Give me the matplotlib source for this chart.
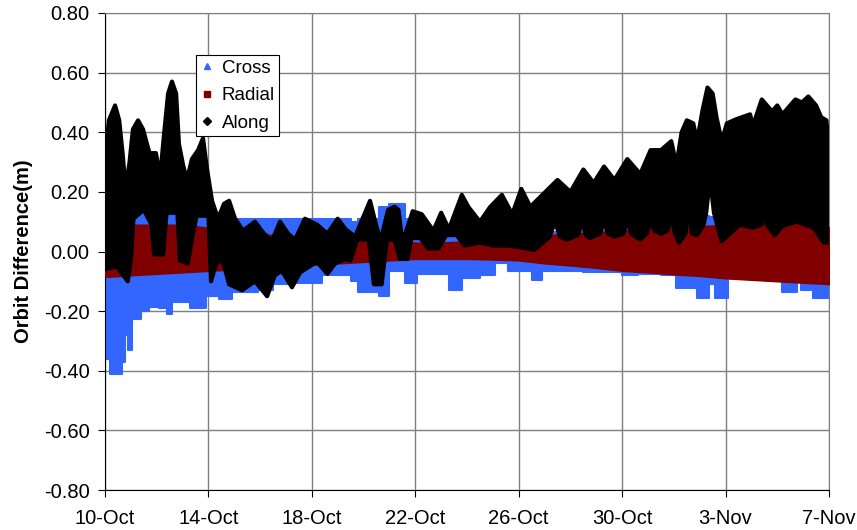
import matplotlib
matplotlib.use("Agg")
import matplotlib.pyplot as plt
import numpy as np
from matplotlib.lines import Line2D

plt.rcParams['font.family'] = ['Liberation Sans', 'DejaVu Sans']

# days after 10-Oct
x_ticks = [0, 4, 8, 12, 16, 20, 24, 28]
x_labels = ['10-Oct', '14-Oct', '18-Oct', '22-Oct', '26-Oct', '30-Oct', '3-Nov', '7-Nov']
y_ticks = [-0.8, -0.6, -0.4, -0.2, 0.0, 0.2, 0.4, 0.6, 0.8]

# Cross: blocks starting at cross_t (min / max of the dense samples)
cross_t = [0.0, 0.19, 0.64, 0.77, 0.9, 1.05, 1.4, 1.7, 2.1, 2.4, 2.6, 3.3, 3.9,
           4.4, 4.9, 5.9, 6.5, 7.3, 8.4, 9.5, 9.8, 10.6, 11.0, 11.6, 12.05, 13.3,
           13.8, 14.5, 15.1, 15.6, 16.5, 16.9, 18.5, 20.0, 20.6, 21.5, 22.1, 22.9,
           23.35, 23.6, 24.1, 26.2, 26.75, 26.9, 27.3, 27.4, 28.0]
cross_lo = [-0.36, -0.41, -0.37, -0.28, -0.33, -0.225, -0.20, -0.185, -0.19, -0.21,
            -0.17, -0.19, -0.15, -0.16, -0.135, -0.13, -0.11, -0.105, -0.08, -0.10,
            -0.135, -0.15, -0.067, -0.106, -0.075, -0.13, -0.09, -0.08, -0.04, -0.065,
            -0.095, -0.067, -0.07, -0.078, -0.075, -0.08, -0.124, -0.157, -0.11,
            -0.155, -0.09, -0.135, -0.10, -0.13, -0.11, -0.157, -0.15]
cross_hi = [0.33, 0.30, 0.28, 0.25, 0.20, 0.13, 0.13, 0.12, 0.14, 0.14, 0.14, 0.14,
            0.13, 0.11, 0.11, 0.11, 0.11, 0.11, 0.11, 0.10, 0.11, 0.15, 0.16, 0.11,
            0.05, 0.08, 0.09, 0.06, 0.05, 0.055, 0.06, 0.065, 0.07, 0.09, 0.085,
            0.095, 0.13, 0.12, 0.115, 0.115, 0.105, 0.10, 0.10, 0.10, 0.10, 0.10, 0.10]

# Radial band
radial_t = [0, 0.5, 1, 2, 3, 4, 5, 6, 7, 8, 9, 10, 11, 12, 13, 14, 15, 16, 17, 18,
            19, 20, 21, 22, 23, 24, 25, 26, 27, 27.7, 28]
radial_hi = [0.06, 0.085, 0.09, 0.09, 0.09, 0.08, 0.07, 0.06, 0.05, 0.045, 0.04,
             0.04, 0.035, 0.03, 0.03, 0.035, 0.04, 0.045, 0.055, 0.06, 0.065, 0.07,
             0.075, 0.08, 0.085, 0.09, 0.10, 0.105, 0.11, 0.10, 0.08]
radial_lo = [-0.085, -0.083, -0.08, -0.075, -0.07, -0.065, -0.06, -0.055, -0.05,
             -0.045, -0.04, -0.035, -0.03, -0.025, -0.025, -0.025, -0.027, -0.03,
             -0.04, -0.047, -0.055, -0.065, -0.07, -0.077, -0.082, -0.09, -0.095,
             -0.10, -0.105, -0.108, -0.11]

# Along: upper and lower envelopes
along_hi_t = [0.0, 0.15, 0.39, 0.55, 0.68, 0.8, 0.95, 1.08, 1.28, 1.47, 1.72, 1.97,
              2.13, 2.28, 2.44, 2.59, 2.75, 2.86, 3.02, 3.17, 3.36, 3.6, 3.79, 3.94,
              4.14, 4.37, 4.6, 4.8, 5.03, 5.34, 5.8, 6.1, 6.45, 6.77, 7.08, 7.35,
              7.73, 8.2, 8.6, 9.0, 9.3, 9.67, 10.25, 10.45, 10.65, 10.95, 11.2, 11.35,
              11.5, 11.9, 12.25, 12.7, 13.0, 13.3, 13.8, 14.05, 14.5, 14.9, 15.35,
              15.75, 16.1, 16.45, 16.8, 17.5, 18.0, 18.5, 18.9, 19.3, 19.7, 20.2, 20.7,
              21.1, 21.5, 21.9, 22.1, 22.3, 22.5, 22.75, 22.9, 23.1, 23.3, 23.5, 23.65,
              23.85, 24.05, 24.45, 24.95, 25.05, 25.4, 25.8, 26.0, 26.2, 26.7, 26.95,
              27.2, 27.5, 27.7, 27.9, 28.0]
along_hi = [0.30, 0.44, 0.49, 0.44, 0.33, 0.21, 0.30, 0.41, 0.44, 0.41, 0.33, 0.33,
            0.25, 0.39, 0.53, 0.57, 0.53, 0.36, 0.29, 0.24, 0.31, 0.34, 0.38, 0.28,
            0.17, 0.11, 0.16, 0.17, 0.11, 0.07, 0.10, 0.065, 0.035, 0.10, 0.06, 0.04,
            0.11, 0.09, 0.06, 0.11, 0.075, 0.05, 0.17, 0.10, 0.035, 0.14, 0.15, 0.14,
            0.03, 0.135, 0.125, 0.07, 0.13, 0.075, 0.19, 0.15, 0.10, 0.15, 0.19,
            0.125, 0.21, 0.15, 0.18, 0.24, 0.20, 0.275, 0.23, 0.285, 0.24, 0.31, 0.26,
            0.34, 0.34, 0.37, 0.29, 0.40, 0.44, 0.43, 0.37, 0.47, 0.55, 0.53, 0.45,
            0.37, 0.43, 0.445, 0.46, 0.42, 0.51, 0.47, 0.49, 0.46, 0.51, 0.50,
            0.52, 0.49, 0.45, 0.44, 0.33]
along_lo_t = [0.0, 0.45, 0.88, 1.0, 1.1, 1.5, 1.8, 1.9, 2.25, 2.38, 2.8, 2.9, 3.2,
              3.4, 3.55, 4.0, 4.1, 4.3, 4.55, 4.8, 5.3, 5.8, 6.27, 6.57, 6.84, 7.23,
              7.55, 8.0, 8.2, 8.6, 8.9, 9.3, 9.5, 9.75, 10.2, 10.4, 10.7, 10.9, 11.2,
              11.4, 11.7, 11.85, 12.2, 12.5, 12.9, 13.2, 13.6, 13.9, 14.5, 15.0, 15.5,
              16.0, 16.6, 17.2, 17.4, 17.6, 17.85, 18.3, 18.45, 18.6, 18.75, 19.15,
              19.3, 19.45, 19.7, 20.05, 20.2, 20.35, 20.7, 20.95, 21.1, 21.25, 21.5,
              21.75, 21.9, 22.05, 22.2, 22.45, 22.55, 22.7, 22.9, 23.15, 23.25, 23.4,
              23.55, 23.85, 24.55, 25.05, 25.4, 25.5, 25.6, 25.9, 26.2, 26.75, 27.4,
              27.8, 28.0]
along_lo = [-0.06, -0.05, -0.10, -0.03, 0.11, 0.14, 0.09, -0.01, -0.01, 0.13, 0.13,
            -0.03, -0.04, 0.06, 0.12, 0.12, -0.10, -0.04, -0.03, -0.11, -0.13, -0.10,
            -0.15, -0.08, -0.065, -0.12, -0.07, -0.045, -0.035, -0.075, -0.04, -0.025,
            -0.03, 0.04, 0.04, -0.11, -0.11, 0.04, 0.04, -0.025, -0.025, 0.045, 0.045,
            0.01, 0.01, 0.055, 0.055, 0.02, 0.03, 0.02, 0.02, 0.015, 0.005, 0.05, 0.10,
            0.05, 0.04, 0.055, 0.10, 0.055, 0.045, 0.06, 0.10, 0.06, 0.05, 0.06, 0.105,
            0.06, 0.04, 0.06, 0.10, 0.07, 0.06, 0.07, 0.11, 0.06, 0.03, 0.06, 0.145,
            0.06, 0.055, 0.09, 0.13, 0.245, 0.13, 0.035, 0.09, 0.08, 0.09, 0.145, 0.09,
            0.055, 0.085, 0.10, 0.08, 0.03, 0.03]

c_cross = '#3366FF'
c_radial = '#800000'
c_along = '#000000'

fig = plt.figure(figsize=(8.57, 5.30), dpi=100)
ax = fig.add_axes([105 / 857, 1 - 490 / 530, 724 / 857, 477 / 530])

ax.fill_between(cross_t, cross_lo, cross_hi, step='post', color=c_cross,
                lw=1.5, edgecolor=c_cross, zorder=2)
ax.fill_between(radial_t, radial_lo, radial_hi, color=c_radial,
                lw=1.0, edgecolor=c_radial, zorder=3)
along_x = list(along_hi_t) + list(along_lo_t[::-1])
along_y = list(along_hi) + list(along_lo[::-1])
ax.fill(along_x, along_y, color=c_along, lw=3.0, edgecolor=c_along,
        joinstyle='round', zorder=4)

ax.set_xlim(x_ticks[0], x_ticks[-1])
ax.set_ylim(y_ticks[0], y_ticks[-1])
ax.set_xticks(x_ticks)
ax.set_xticklabels(x_labels)
ax.set_yticks(y_ticks)
ax.set_yticklabels(['%.2f' % v for v in y_ticks])
ax.tick_params(axis='both', labelsize=14.5, direction='out', length=5, width=0.8,
               color='black')
ax.tick_params(axis='x', pad=9)
ax.tick_params(axis='y', pad=6)
ax.grid(True, color='#7f7f7f', lw=1.0)
ax.set_axisbelow(True)
for side in ['top', 'right']:
    ax.spines[side].set_color('#7f7f7f')
for side in ['left', 'bottom']:
    ax.spines[side].set_color('black')

ax.set_ylabel('Orbit Difference(m)', fontsize=14.5, fontweight='bold', labelpad=8)

handles = [
    Line2D([], [], ls='none', marker='^', ms=5, color=c_cross, label='Cross'),
    Line2D([], [], ls='none', marker='s', ms=5, color=c_radial, label='Radial'),
    Line2D([], [], ls='none', marker='D', ms=4, color=c_along, label='Along'),
]
leg = ax.legend(handles=handles, loc='upper left', bbox_to_anchor=(0.126, 0.912),
                fontsize=13.5, frameon=True, fancybox=False, edgecolor='black',
                framealpha=1, handlelength=0.6, handletextpad=0.5,
                borderpad=0.25, labelspacing=0.55, borderaxespad=0)
leg.get_frame().set_linewidth(0.8)
leg.set_zorder(10)

fig.savefig('out.png', dpi=100, facecolor='white')
